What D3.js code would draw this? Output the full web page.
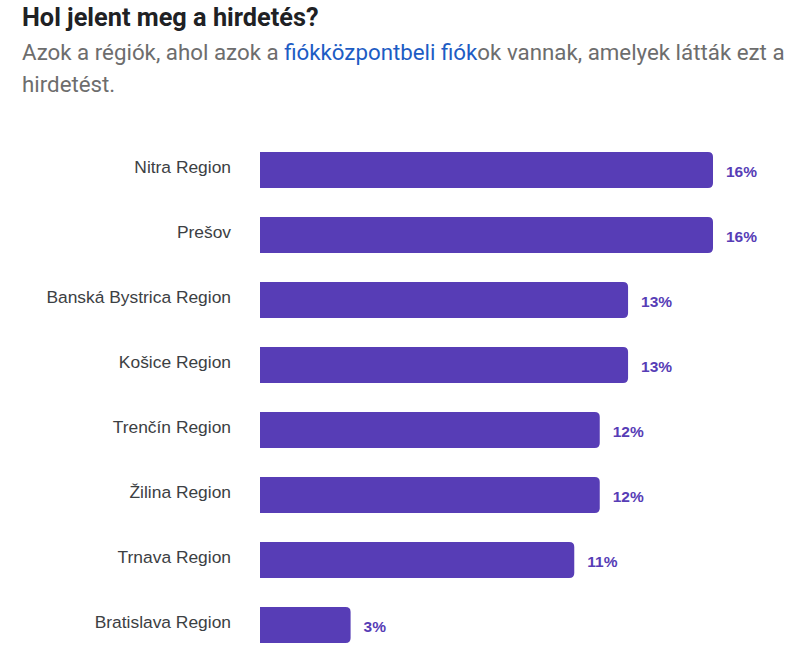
<!DOCTYPE html>
<html><head><meta charset="utf-8">
<script src="https://cdn.jsdelivr.net/npm/d3@7"></script>
<style>body{margin:0;background:#fff;}</style>
</head><body>
<script>
const categories = ["Nitra Region","Prešov","Banská Bystrica Region","Košice Region","Trenčín Region","Žilina Region","Trnava Region","Bratislava Region"];
const values = [16.0, 16.0, 13.0, 13.0, 12.0, 12.0, 11.1, 3.2];
const valueLabels = ["16%","16%","13%","13%","12%","12%","11%","3%"];

const W = 800, H = 671;
const svg = d3.select("body").append("svg").attr("width", W).attr("height", H);

svg.append("text").attr("x", 22).attr("y", 26)
  .attr("font-family", "Roboto, sans-serif").attr("font-weight", 700).attr("font-size", 25.3)
  .attr("fill", "#202124").text("Hol jelent meg a hirdetés?");

const sub1 = svg.append("text").attr("x", 22).attr("y", 60)
  .attr("font-family", "Roboto, sans-serif").attr("font-size", 22.3).attr("fill", "#6d6d6d");
sub1.append("tspan").text("Azok a régiók, ahol azok a ");
sub1.append("tspan").attr("fill", "#1d5cc4").text("fiókközpontbeli fiók");
sub1.append("tspan").text("ok vannak, amelyek látták ezt a");
svg.append("text").attr("x", 22).attr("y", 92)
  .attr("font-family", "Roboto, sans-serif").attr("font-size", 22.3).attr("fill", "#6d6d6d")
  .text("hirdetést.");

const x = d3.scaleLinear().domain([0, 16]).range([260, 713]);
const y = d3.scaleBand().domain(categories).range([137.5, 657.5]).paddingInner(0.446).paddingOuter(0.223);

const r = 5;
function barPath(d, i) {
  const x0 = x(0), x1 = x(values[i]), y0 = y(d), h = y.bandwidth();
  const rr = Math.min(r, (x1 - x0));
  return `M${x0},${y0}H${x1 - rr}Q${x1},${y0} ${x1},${y0 + rr}V${y0 + h - rr}Q${x1},${y0 + h} ${x1 - rr},${y0 + h}H${x0}Z`;
}

svg.append("g").selectAll("path").data(categories).join("path")
  .attr("d", barPath).attr("fill", "#573db6");

svg.append("g").selectAll("text").data(categories).join("text")
  .attr("x", 231).attr("y", d => y(d) + y.bandwidth() / 2 + 3)
  .attr("text-anchor", "end")
  .attr("font-family", "Liberation Sans, Arial, sans-serif").attr("font-size", 17.4)
  .attr("fill", "#3c4043").text(d => d);

svg.append("g").selectAll("text").data(categories).join("text")
  .attr("x", (d, i) => x(values[i]) + 13).attr("y", d => y(d) + y.bandwidth() / 2 + 6.5)
  .attr("font-family", "Liberation Sans, Arial, sans-serif").attr("font-weight", 700).attr("font-size", 15.5)
  .attr("fill", "#573db6").text((d, i) => valueLabels[i]);
</script>
</body></html>
